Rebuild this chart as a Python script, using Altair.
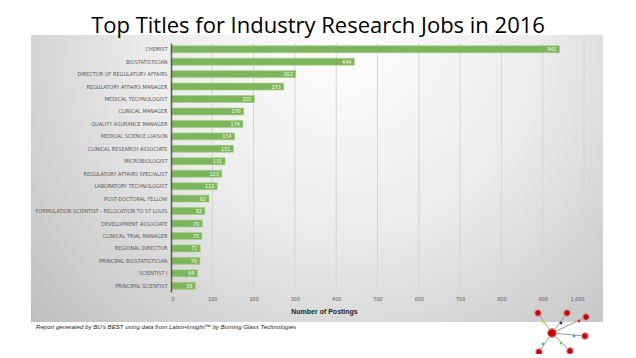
import altair as alt
import pandas as pd

# ---------------- data ----------------
job_titles = [
    "CHEMIST", "BIOSTATISTICIAN", "DIRECTOR OF REGULATORY AFFAIRS",
    "REGULATORY AFFAIRS MANAGER", "MEDICAL TECHNOLOGIST", "CLINICAL MANAGER",
    "QUALITY ASURANCE MANAGER", "MEDICAL SCIENCE LIAISON",
    "CLINICAL RESEARCH ASSOCIATE", "MICROBIOLOGIST",
    "REGULATORY AFFAIRS SPECIALIST", "LABORATORY TECHNOLOGIST",
    "POST-DOCTORAL FELLOW", "FORMULATION SCIENTIST - RELOCATION TO ST LOUIS",
    "DEVELOPMENT ASSOCIATE", "CLINICAL TRIAL MANAGER", "REGIONAL DIRECTOR",
    "PRINCIPAL BIOSTATISTICIAN", "SCIENTIST I", "PRINCIPAL SCIENTIST",
]
postings = [941, 444, 302, 273, 202, 176, 174, 154, 151, 131,
            123, 112, 92, 82, 76, 75, 71, 70, 64, 59]
x_ticks = [0, 100, 200, 300, 400, 500, 600, 700, 800, 900, 1000]

chart_title = "Top Titles for Industry Research Jobs in 2016"
x_title = "Number of Postings"
footnote = "Report generated by BU's BEST using data from Labor\u2022Insight\u2122 by Burning Glass Technologies"

# decorative network logo (plot-pixel units, identity scale)
logo_node_x = [381, 367, 396, 415, 414, 399, 368]
logo_node_y = [290, 270, 270, 274, 293, 308, 309]
logo_node_size = [80, 42, 42, 42, 42, 42, 42]
logo_dot_x = [372, 390, 408, 403, 390, 372]
logo_dot_y = [279, 280, 278, 293, 300, 301]
logo_dot_color = ["#f5d327", "#1f3b57", "#e0201b", "#3c9ad6", "#7ccf3f", "#27c3a0"]

# ---------------- layout ----------------
W = 413
H = 249
GREEN = "#7db65a"
LABEL_FONT = "DejaVu Sans Condensed, Liberation Sans, sans-serif"

df = pd.DataFrame({"title": job_titles, "postings": postings})
grid_df = pd.DataFrame({"postings": x_ticks[1:]})

x_scale = alt.Scale(domain=[0, 1000], nice=False)
y_scale = alt.Scale(paddingInner=0.44, paddingOuter=0.22)

y_axis = alt.Axis(title=None, ticks=False, labelPadding=4,
                  labelFont=LABEL_FONT,
                  labelFontSize=5.5, labelColor="#595959",
                  labelLimit=400, domainColor="#595959",
                  domainWidth=1.5, zindex=2)
x_axis = alt.Axis(values=x_ticks, labelExpr="format(datum.value, ',')",
                  ticks=False, domain=False, grid=False,
                  labelColor="#595959",
                  labelFont=LABEL_FONT, labelFontSize=5.4,
                  labelPadding=4, title=x_title,
                  titleFont="Liberation Sans", titleFontSize=7,
                  titleFontWeight="bold", titleColor="#262626",
                  titleX=153, titleY=19, titleBaseline="middle",
                  zindex=2)

x_enc = alt.X("postings:Q", scale=x_scale, axis=x_axis)
y_enc = alt.Y("title:N", sort=job_titles, scale=y_scale, axis=y_axis)

bg = alt.Chart(pd.DataFrame({"k": [0]})).mark_rect(
    color=alt.RadialGradient(
        gradient="radial",
        stops=[alt.GradientStop(offset=0, color="#ffffff"),
               alt.GradientStop(offset=0.45, color="#ebebeb"),
               alt.GradientStop(offset=1, color="#bababa")],
        x1=0.55, y1=0.25, r1=0, x2=0.55, y2=0.25, r2=0.78),
).encode(x=alt.value(-140), x2=alt.value(432), y=alt.value(-8), y2=alt.value(279))

grid = alt.Chart(grid_df).mark_rule(color="#d4d4d4", strokeWidth=1).encode(
    x=x_enc, y=alt.value(0), y2=alt.value(H))

bars = alt.Chart(df).mark_bar(color=GREEN, stroke="#a6d08a", strokeWidth=0.6).encode(
    x=x_enc, y=y_enc)

labels = alt.Chart(df).mark_text(align="right", dx=-3, color="white",
                                 font=LABEL_FONT, fontSize=5.4,
                                 baseline="middle").encode(
    x=x_enc, y=y_enc, text="postings:Q")

title_t = alt.Chart(pd.DataFrame({"t": [chart_title]})).mark_text(
    font="Open Sans", fontSize=22, color="#000000", align="center",
    baseline="alphabetic").encode(x=alt.value(147), y=alt.value(-10.5), text="t:N")

foot_t = alt.Chart(pd.DataFrame({"t": [footnote]})).mark_text(
    font="Liberation Sans", fontSize=6.1, fontStyle="italic", color="#262626",
    align="left", baseline="middle").encode(x=alt.value(-135), y=alt.value(284), text="t:N")

# logo (identity positional scales)
edges = pd.DataFrame({"x": [logo_node_x[0]] * 6, "y": [logo_node_y[0]] * 6,
                      "x2": logo_node_x[1:], "y2": logo_node_y[1:]})
nodes = pd.DataFrame({"x": logo_node_x, "y": logo_node_y, "s": logo_node_size})
dots = pd.DataFrame({"x": logo_dot_x, "y": logo_dot_y, "c": logo_dot_color})

logo_edges = alt.Chart(edges).mark_rule(color="#9a9a9a", strokeWidth=1).encode(
    x=alt.X("x:Q", scale=None, axis=None), y=alt.Y("y:Q", scale=None, axis=None),
    x2="x2:Q", y2="y2:Q")
logo_dots = alt.Chart(dots).mark_square(size=6, opacity=1).encode(
    x=alt.X("x:Q", scale=None, axis=None), y=alt.Y("y:Q", scale=None, axis=None),
    color=alt.Color("c:N", scale=None))
logo_nodes = alt.Chart(nodes).mark_circle(color="#cc0000", opacity=1,
                                          stroke="#c9a5a5", strokeWidth=1.2).encode(
    x=alt.X("x:Q", scale=None, axis=None), y=alt.Y("y:Q", scale=None, axis=None),
    size=alt.Size("s:Q", scale=None, legend=None))

chart = alt.layer(bg, grid, bars, labels, title_t, foot_t,
                  logo_edges, logo_dots, logo_nodes).properties(
    width=W, height=H,
    autosize=alt.AutoSizeParams(type="none"),
    padding={"left": 163, "top": 35, "right": 44, "bottom": 62},
    background="white",
).configure_view(stroke=None)

chart.save("out.html", embed_options={"renderer": "svg", "actions": False})
